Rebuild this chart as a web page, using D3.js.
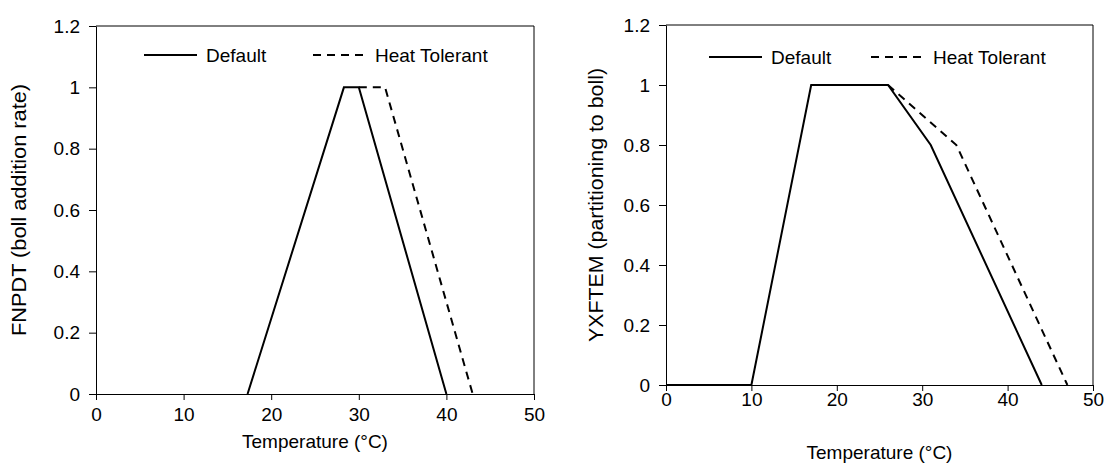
<!DOCTYPE html>
<html lang="en">
  <head>
    <meta charset="UTF-8">
    <title>Temperature response curves</title>
    <style>
      body { margin: 0; background: #fff; }
      svg { display: block; font-family: "Liberation Sans", Arial, sans-serif; }
    </style>
    <script src="https://d3js.org/d3.v7.min.js"></script>
    <script>
      // x ticks and y ticks shared by both panels
      var xTicks = [0, 10, 20, 30, 40, 50];
      var yTicks = [0, 0.2, 0.4, 0.6, 0.8, 1, 1.2];
      var seriesNames = ["Default", "Heat Tolerant"];

      // left panel: FNPDT
      var fnpdtDefault = [[17.3, 0], [28.3, 1], [30, 1], [40, 0]];
      var fnpdtHeat = [[30, 1], [33, 1], [43, 0]];

      // right panel: YXFTEM
      var yxftemDefault = [[0, 0], [10, 0], [17, 1], [26, 1], [31, 0.8], [44, 0]];
      var yxftemHeat = [[26, 1], [34, 0.8], [47, 0]];

      window.onload = function () {
        var svg = d3.select("body").append("svg")
          .attr("width", 1105)
          .attr("height", 466);

        var fs = 19;

        function panel(opt) {
          var x = d3.scaleLinear().domain([0, 50]).range([opt.left, opt.right]);
          var y = d3.scaleLinear().domain([0, 1.2]).range([opt.bottom, opt.top]);
          var g = svg.append("g");

          // frame (top and right)
          g.append("path")
            .attr("d", "M" + opt.left + "," + opt.top + "H" + opt.right + "V" + opt.bottom)
            .attr("fill", "none").attr("stroke", "#000").attr("stroke-width", 1);

          var xAxis = g.append("g")
            .attr("transform", "translate(0," + opt.bottom + ")")
            .call(d3.axisBottom(x).tickValues(xTicks).tickSize(6).tickSizeOuter(0).tickPadding(opt.xPad));
          var yAxis = g.append("g")
            .attr("transform", "translate(" + opt.left + ",0)")
            .call(d3.axisLeft(y).tickValues(yTicks).tickSize(7).tickSizeOuter(0).tickPadding(9)
              .tickFormat(d3.format("")));
          [xAxis, yAxis].forEach(function (a) {
            a.attr("font-size", fs).attr("font-family", "Liberation Sans, Arial, sans-serif");
            a.selectAll("path, line").attr("stroke", "#000");
            a.selectAll("text").attr("fill", "#000");
          });

          var line = d3.line().x(function (d) { return x(d[0]); }).y(function (d) { return y(d[1]); });

          g.append("path").datum(opt.heat).attr("d", line)
            .attr("fill", "none").attr("stroke", "#000").attr("stroke-width", 2)
            .attr("stroke-dasharray", "8,6");
          g.append("path").datum(opt.def).attr("d", line)
            .attr("fill", "none").attr("stroke", "#000").attr("stroke-width", 2);

          // axis titles
          g.append("text")
            .attr("x", (opt.left + opt.right) / 2).attr("y", opt.xTitleY)
            .attr("text-anchor", "middle").attr("font-size", fs)
            .text("Temperature (°C)");
          g.append("text")
            .attr("transform", "translate(" + opt.yTitleX + "," + ((opt.top + opt.bottom) / 2) + ") rotate(-90)")
            .attr("text-anchor", "middle").attr("font-size", 20)
            .attr("textLength", opt.yTitleLen).attr("lengthAdjust", "spacingAndGlyphs")
            .text(opt.yTitle);

          // legend
          var lg = g.append("g");
          opt.legend.forEach(function (it, i) {
            lg.append("line")
              .attr("x1", it.x).attr("x2", it.x + 53)
              .attr("y1", opt.legendY).attr("y2", opt.legendY)
              .attr("stroke", "#000").attr("stroke-width", 2)
              .attr("stroke-dasharray", i === 1 ? "8,6" : null);
            lg.append("text")
              .attr("x", it.x + 62).attr("y", opt.legendY + 7)
              .attr("font-size", fs)
              .text(seriesNames[i]);
          });
        }

        panel({
          left: 96, right: 534, top: 26, bottom: 394, xPad: 8,
          def: fnpdtDefault, heat: fnpdtHeat,
          yTitle: "FNPDT (boll addition rate)", yTitleX: 26, yTitleLen: 252, xTitleY: 448,
          legendY: 55, legend: [{ x: 144 }, { x: 313 }]
        });
        panel({
          left: 666, right: 1093, top: 25, bottom: 385, xPad: 2,
          def: yxftemDefault, heat: yxftemHeat,
          yTitle: "YXFTEM (partitioning to boll)", yTitleX: 603, yTitleLen: 274, xTitleY: 459,
          legendY: 57, legend: [{ x: 709 }, { x: 871 }]
        });
      };
    </script>
  </head>
  <body>
  </body>
</html>
